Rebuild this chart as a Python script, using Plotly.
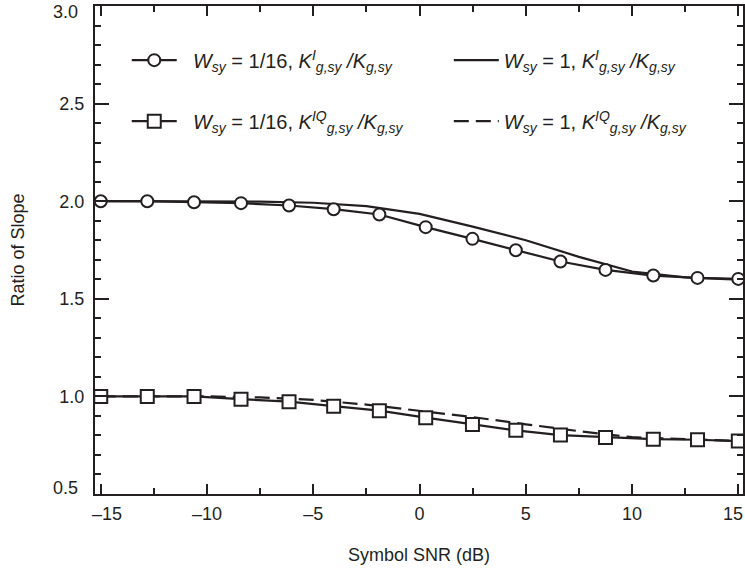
import plotly.graph_objects as go

# ---- data ----
snr_markers = [-15, -12.81, -10.61, -8.40, -6.14, -4.04, -1.89, 0.29, 2.49, 4.53, 6.63, 8.75, 11.0, 13.08, 15.0]
i_w16 = [2.0, 2.0, 1.995, 1.99, 1.978, 1.959, 1.932, 1.867, 1.807, 1.749, 1.691, 1.648, 1.619, 1.607, 1.602]
iq_w16 = [1.0, 1.0, 1.0, 0.986, 0.973, 0.950, 0.927, 0.891, 0.856, 0.826, 0.802, 0.790, 0.781, 0.778, 0.771]

snr_curve = [-15, -12.5, -10, -7.5, -5, -2.5, 0, 2.5, 5, 7.5, 10, 12.5, 15]
i_w1 = [2.0, 2.0, 2.0, 1.998, 1.992, 1.975, 1.935, 1.87, 1.80, 1.715, 1.64, 1.61, 1.598]
iq_w1 = [1.0, 1.0, 1.0, 0.995, 0.982, 0.958, 0.926, 0.894, 0.857, 0.822, 0.791, 0.781, 0.772]

x_tickvals = [-15, -10, -5, 0, 5, 10, 15]
x_ticktext = ["\u201315", "\u201310", "\u20135", "0", "5", "10", "15"]
y_tickvals = [0.5, 1.0, 1.5, 2.0, 2.5, 3.0]
y_ticktext = ["0.5", "1.0", "1.5", "2.0", "2.5", "3.0"]

SP = "\u00a0\u00a0"
name_i16 = SP + "<i>W</i><sub><i>sy</i></sub> = 1/16, <i>K</i><sup><i>I</i></sup><sub><i>g,sy</i></sub><i> /K</i><sub><i>g,sy</i></sub>"
name_iq16 = SP + "<i>W</i><sub><i>sy</i></sub> = 1/16, <i>K</i><sup><i>IQ</i></sup><sub><i>g,sy</i></sub><i> /K</i><sub><i>g,sy</i></sub>"
name_i1 = "<i>W</i><sub><i>sy</i></sub> = 1, <i>K</i><sup><i>I</i></sup><sub><i>g,sy</i></sub><i> /K</i><sub><i>g,sy</i></sub>"
name_iq1 = "<i>W</i><sub><i>sy</i></sub> = 1, <i>K</i><sup><i>IQ</i></sup><sub><i>g,sy</i></sub><i> /K</i><sub><i>g,sy</i></sub>"

FONT = "Liberation Sans, Arial, sans-serif"
C = "#231f20"
TICKFONT = dict(family=FONT, size=18, color=C)

fig = go.Figure()
fig.add_trace(go.Scatter(x=snr_curve, y=i_w1, mode="lines", name=name_i1,
                         line=dict(color=C, width=2.2), legend="legend2", legendgroup="a"))
fig.add_trace(go.Scatter(x=snr_curve, y=iq_w1, mode="lines", name=name_iq1,
                         line=dict(color=C, width=2.2, dash="15px,7px"), legend="legend2", legendgroup="b"))
fig.add_trace(go.Scatter(x=snr_markers, y=i_w16, mode="lines+markers", name=name_i16,
                         line=dict(color=C, width=2.2),
                         marker=dict(symbol="circle", size=12, color="white", line=dict(color=C, width=2)),
                         legend="legend", legendgroup="c"))
fig.add_trace(go.Scatter(x=snr_markers, y=iq_w16, mode="lines+markers", name=name_iq16,
                         line=dict(color=C, width=2.2),
                         marker=dict(symbol="square", size=13, color="white", line=dict(color=C, width=2)),
                         legend="legend", legendgroup="d"))

# edge tick labels are drawn as annotations so they can sit just inside the frame
x_axis_text = [""] + x_ticktext[1:-1] + [""]
y_axis_text = [""] + y_ticktext[1:-1] + [""]
edge_labels = [
    dict(x=x_tickvals[0], y=0, xref="x", yref="paper", text=x_ticktext[0], xshift=6, yshift=-20,
         xanchor="center", yanchor="middle"),
    dict(x=x_tickvals[-1], y=0, xref="x", yref="paper", text=x_ticktext[-1], xshift=-5, yshift=-20,
         xanchor="center", yanchor="middle"),
    dict(x=0, y=y_tickvals[0], xref="paper", yref="y", text=y_ticktext[0], xshift=-15, yshift=6,
         xanchor="right", yanchor="middle"),
    dict(x=0, y=y_tickvals[-1], xref="paper", yref="y", text=y_ticktext[-1], xshift=-15, yshift=-6,
         xanchor="right", yanchor="middle"),
]
for a in edge_labels:
    fig.add_annotation(showarrow=False, font=TICKFONT, **a)

legend_common = dict(font=dict(family=FONT, size=20, color=C), bgcolor="rgba(0,0,0,0)",
                     tracegroupgap=32, itemwidth=45, traceorder="grouped",
                     yanchor="top", xanchor="left")
fig.update_layout(
    width=745, height=571,
    margin=dict(l=95, r=2, t=6, b=77, autoexpand=False),
    paper_bgcolor="white", plot_bgcolor="white",
    font=dict(family=FONT, size=18, color=C),
    legend=dict(x=0.049, y=0.929, **legend_common),
    legend2=dict(x=0.546, y=0.929, **legend_common),
    xaxis=dict(range=[-15.27, 15.22], tickvals=x_tickvals, ticktext=x_axis_text,
               ticks="inside", ticklen=10, tickwidth=1.5, tickcolor=C,
               minor=dict(dtick=2.5, tick0=0, ticks="inside", ticklen=6, tickwidth=1.5, tickcolor=C),
               showline=True, linecolor=C, linewidth=2, mirror="allticks",
               showgrid=False, zeroline=False, automargin=False,
               tickfont=TICKFONT, ticklabelstandoff=2,
               title=dict(text="Symbol SNR (dB)", font=dict(size=18), standoff=26)),
    yaxis=dict(range=[0.5, 3.0], tickvals=y_tickvals, ticktext=y_axis_text,
               ticks="inside", ticklen=14, tickwidth=1.5, tickcolor=C,
               minor=dict(dtick=0.1, tick0=0, ticks="inside", ticklen=6, tickwidth=1.5, tickcolor=C),
               showline=True, linecolor=C, linewidth=2, mirror="allticks",
               showgrid=False, zeroline=False, automargin=False,
               tickfont=TICKFONT, ticklabelstandoff=5,
               title=dict(text="Ratio of Slope", font=dict(size=18), standoff=30)),
)

fig.write_html("out.html", config={"displayModeBar": False},
               post_script="document.body.style.margin='0px';")
